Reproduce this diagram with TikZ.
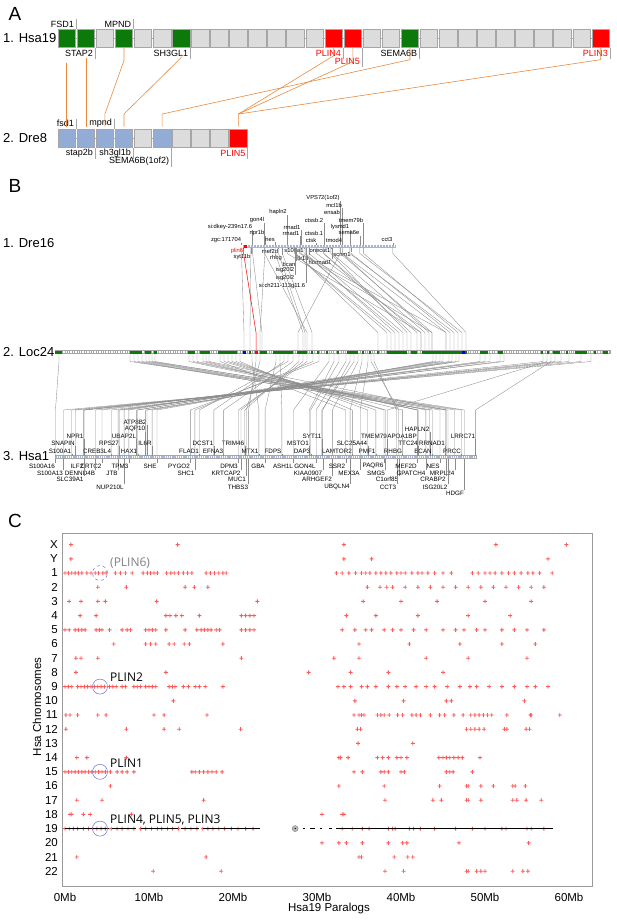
\documentclass[tikz,border=0pt]{standalone}
\usepackage{fontspec}
\setmainfont{Liberation Sans}
\newfontfamily\plinfont{Open Sans}
\usetikzlibrary{calc}

\definecolor{cellgray}{HTML}{DCDCDC}
\definecolor{celledge}{HTML}{A6A6A6}
\definecolor{hsagreen}{HTML}{0B7A0B}
\definecolor{drecell}{HTML}{93ACD5}
\definecolor{orthoorange}{HTML}{E88A3E}
\definecolor{chrblue}{HTML}{A7B6D7}
\definecolor{linkgray}{HTML}{8C8C8C}
\definecolor{hitred}{HTML}{FF5A5A}
\definecolor{ringblue}{HTML}{6A70D6}
\definecolor{framegray}{HTML}{9A9A9A}

\begin{document}
\begin{tikzpicture}[x=1pt,y=-1pt,
    cell/.style={draw=celledge,fill=cellgray,line width=0.7pt,minimum width=17.5pt,minimum height=18pt,inner sep=0pt},
    gcell/.style={cell,fill=hsagreen},
    bcell/.style={cell,fill=drecell},
    rcell/.style={cell,fill=red},
    albl/.style={font=\fontsize{9}{9}\selectfont,inner sep=0.5pt,anchor=east},
    rowlbl/.style={font=\fontsize{13}{13}\selectfont,anchor=west,inner sep=0pt},
    panel/.style={font=\fontsize{19}{19}\selectfont,inner sep=0pt},
    lbltick/.style={celledge,line width=0.5pt},
    ortho/.style={orthoorange,line width=0.6pt},
    glbl/.style={font=\fontsize{5.8}{5.8}\selectfont,inner sep=0.3pt},
    hlbl/.style={font=\fontsize{6.3}{6.3}\selectfont,inner sep=0.3pt},
    glink/.style={linkgray,line width=0.35pt},
    ticklbl/.style={font=\fontsize{11.5}{11.5}\selectfont,inner sep=0pt},
    plinlbl/.style={font=\plinfont\fontsize{12}{12}\selectfont,anchor=west,inner sep=0pt},
    ring/.style={draw=ringblue,circle,minimum size=15pt,inner sep=0pt,line width=0.5pt},
    hit/.pic={\fill[hitred] (-2,-0.45) rectangle (2,0.45) (-0.45,-2) rectangle (0.45,2);}
  ]
\useasboundingbox (0,0) rectangle (617,923);

%% A: Hsa19 against Dre8
\node[panel] (labA) at (15,14) {A};
\node[rowlbl] (hsa19) at (3,38.3) {1. Hsa19};
\node[rowlbl] (dre8) at (3,138.4) {2. Dre8};

\draw[celledge,line width=0.8pt] (58,38.3) -- (609.5,38.3);
\foreach \i in {0,...,28}
  \node[cell] (h\i) at ({66.75+19.07*\i},38.3) {};
\foreach \i/\s in {0/gcell,1/gcell,3/gcell,6/gcell,14/rcell,15/rcell,18/gcell,28/rcell}
  \node[\s] at (h\i) {};

\draw[celledge,line width=0.8pt] (58,138.4) -- (247,138.4);
\foreach \i in {0,...,9}
  \node[cell] (d\i) at ({66.75+19.07*\i},138.4) {};
\foreach \i/\s in {0/bcell,1/bcell,2/bcell,3/bcell,5/bcell,9/rcell}
  \node[\s] at (d\i) {};

% gene names on the cells
\foreach \i/\y/\col/\txt in {0/24/black/FSD1,3/24/black/MPND}{
  \node[albl,text=\col] (hn\i) at ({74.5+19.07*\i},\y) {\txt};
  \draw[lbltick] (h\i.north east) -- ++(0,-10);
}
\foreach \i/\y/\col/\txt in {1/53/black/STAP2,6/53/black/SH3GL1,14/53/red/PLIN4,15/61/red/PLIN5,18/53/black/SEMA6B,28/53/red/PLIN3}{
  \node[albl,text=\col] (hn\i) at ({74.5+19.07*\i},\y) {\txt};
  \draw[lbltick] (h\i.south east) -- ++(0,\y-42);
}
\foreach \i/\y/\col/\txt in {0/123/black/fsd1,2/123/black/mpnd}{
  \node[albl,text=\col] (dn\i) at ({74.5+19.07*\i},\y) {\txt};
  \draw[lbltick] (d\i.north east) -- ++(0,-10);
}
\foreach \i/\y/\col/\txt in {1/153/black/stap2b,3/153/black/sh3gl1b,5/161/black/SEMA6B(1of2),9/153/red/PLIN5}{
  \node[albl,text=\col] (dn\i) at ({74.5+19.07*\i},\y) {\txt};
  \draw[lbltick] (d\i.south east) -- ++(0,\y-142);
}

% orthologue links
\draw[ortho] (h0.south) ++(0,15) -- ([yshift=2.5pt]d0.north);
\draw[ortho] (h1.south) ++(0,10) -- ([yshift=2.5pt]d1.north);
\draw[ortho] (h3.south) -- ++(0,13) -- ([yshift=15pt]d2.north) -- ([yshift=2.5pt]d2.north);
\draw[ortho] (h6.south) ++(0,6) -- ++(0,4) -- ([yshift=15pt]d3.north) -- ([yshift=2.5pt]d3.north);
\draw[ortho] (h14.south) -- ++(0,8) -- ([yshift=15pt]d9.north);
\draw[ortho] (h15.south) -- ++(0,14) -- ([yshift=15pt]d9.north);
\draw[ortho] (h18.south) -- ++(0,12) -- ([yshift=15pt]d5.north) -- ([yshift=2.5pt]d5.north);
\draw[ortho] (h28.south) -- ++(0,12) -- ([yshift=15pt]d9.north) -- ([yshift=2.5pt]d9.north);

%% B: Dre16 - Loc24 - Hsa1
\node[panel] (labB) at (15,186) {B};
\node[rowlbl] (dre16) at (3,243) {1. Dre16};
\node[rowlbl] (loc24) at (3,352) {2. Loc24};
\node[rowlbl] (hsa1) at (3,456) {3. Hsa1};

\coordinate (dtop) at (0,244.5);
\coordinate (dbot) at (0,247.5);
\coordinate (htop) at (0,455.5);
\coordinate (hbot) at (0,458.5);
\coordinate (hknee) at (0,410);

% chromosome bars
\fill[chrblue] (243,244.5) rectangle (396,247.5);
\draw[white,line width=2.4pt,dash pattern=on 0.5pt off 2.5pt] (244,246) -- (396,246);
\fill[red] (243.5,244.5) rectangle (246.5,247.5);

\draw[celledge,fill=white,line width=0.4pt] (55,350.5) rectangle (610,353.5);
\draw[celledge,line width=2.6pt,dash pattern=on 0.4pt off 2pt] (55,352) -- (610,352);
\foreach \lo/\hi in {55/62,130/142,145/151,154/157,188/195,200/210,218/237,249/251,260/267,273/293,297/307,311/313,317/319,326/328,337/339,347/358,362/364,369/371,377/379,387/407,411/417,422/462,465/467,480/488,498/503,541/543,547/549,553/560,566/568,575/587,594/596,603/608}
  \fill[hsagreen] (\lo,350.5) rectangle (\hi,353.5);
\fill[blue!85!black] (242.5,350.5) rectangle (245.5,353.5);
\fill[blue!85!black] (461.5,350.5) rectangle (464.5,353.5);
\fill[red] (254.5,350.5) rectangle (257.5,353.5);

\draw[celledge,fill=white,line width=0.4pt] (55,455.5) rectangle (476,458.5);
\draw[chrblue,line width=2.4pt,dash pattern=on 1.5pt off 0.7pt] (55.5,457) -- (475.5,457);

\foreach \x in {59,130,134,138,142,146,149,152,155,189,193,197,203,206,209,220,224,228,232,236,240,244,250,252,256,260,262,276,280,284,288,293,298,299,303,305,307,312,313,319,329,334,339,346,350,354,358,362,368,371,374,378,387,391,395,399,403,407,411,417,421,425,429,432,433,436,440,443,446,449,450,452,454,456,458,459,462,466,480,485,490,500,504,543,547,551,555,561,569,581,591}{
  \coordinate (L\x) at (\x,350.5);
  \coordinate (M\x) at (\x,353.5);
}

% Dre16 genes
\foreach \n/\x/\y/\txt in {1/323/198/VPS72(1of2),2/334/205/mcl1b,3/332/212/ensab,4/278/212/hapln2,5/257/220/gon4l,6/314/220/ctssb.2,7/351/220/tmem79b,8/230/227/si:dkey-239n17.6,9/292/227/rrnad1,10/340/227/lysmd1,11/257/233/npr1b,12/291/233/rrnad1,13/314/233/ctssb.1,14/349/233/sema6e,15/226/240/zgc:171704,16/270/240/nes,17/311/240/ctsk,18/334/240/tmod4,19/387/240/cct3}{
  \node[glbl] (d16-\n) at (\x,\y) {\txt};
  \draw[glink] (d16-\n.south east) -- (d16-\n.south east |- dtop);
}
\foreach \n/\x/\y/\col/\txt in {20/237/251/red/plin6,21/242/257/black/syt11b,22/270/251/black/mef2d,23/294/251/black/s100a1,24/320/251/black/onecut1,25/276/258/black/rhbg,26/342/255/black/scnm1,27/303/258/black/tlr18,28/289/264/black/bcan,29/320/262/black/hormad1,30/285/270/black/isg20l2,31/285/278/black/isg20l2,32/282/286/black/si:ch211-113g11.6}{
  \node[glbl,text=\col] (d16-\n) at (\x,\y) {\txt};
  \draw[glink] (d16-\n.north east) -- (d16-\n.north east |- dbot);
}

% Dre16 to Loc24
\foreach \n/\x in {15/244,21/250,8/262,11/260,22/305,25/312,1/298,16/303,5/307,28/378,30/387,31/391,32/395,23/399,27/403,24/407,6/411,13/417,17/421,29/425,2/429,3/432,18/446,26/450,10/454,7/458,14/462,19/466,4/421,9/446,12/432}
  \draw[glink] (d16-\n.east |- dbot) -- ++(0,6) -- ([yshift=18pt]L\x) -- (L\x);
\draw[red,line width=0.5pt] (d16-20.east |- dbot) -- ++(0,6) -- ([yshift=18pt]L256) -- (L256);

% Hsa1 genes
\foreach \g/\x/\y in {ATP8B2/135/422,AQP10/135/429,UBAP2L/124/436,NPR1/75/436,SNAPIN/63/443,RPS27/109/443,IL6R/145/443,S100A1/60/451,CREB3L4/97/451,HAX1/129/451,DCST1/203/443,TRIM46/233/443,FLAD1/189/451,EFNA3/213/451,MTX1/250/451,FDPS/273/451,MSTO1/298/443,DAP3/302/451,SYT11/312/436,LAMTOR2/337/451,SLC25A44/352/443,PMF1/367/451,TMEM79/374/436,APOA1BP/402/436,HAPLN2/417/429,TTC24/408/443,RRNAD1/432/443,LRRC71/463/436,RHBG/393/451,BCAN/423/451,PRCC/452/451}{
  \node[hlbl] (h\g) at (\x,\y) {\g};
  \draw[glink] (h\g.south east) -- (h\g.south east |- htop);
}
\foreach \g/\x/\y in {S100A16/42/466,S100A13/50/473,ILF2/77/466,CRTC2/91/466,DENND4B/80/473,JTB/112/473,SLC39A1/70/479,NUP210L/110/487,TPM3/120/466,SHE/150/466,PYGO2/179/466,SHC1/186/473,DPM3/229/466,KRTCAP2/226/473,MUC1/237/479,THBS3/238/487,GBA/258/466,ASH1L/283/466,GON4L/305/466,KIAA0907/308/473,ARHGEF2/317/479,UBQLN4/337/487,SSR2/337/466,MEX3A/349/473,PAQR6/373/466,SMG5/376/473,C1orf85/387/479,CCT3/388/487,MEF2D/406/466,GPATCH4/411/473,NES/433/466,MRPL24/442/473,CRABP2/433/479,ISG20L2/435/487,HDGF/455/493}{
  \node[hlbl] (h\g) at (\x,\y) {\g};
  \draw[glink] (h\g.north east) -- (h\g.north east |- hbot);
}

% Loc24 to Hsa1
\foreach \x/\g in {59/S100A16,130/PRCC,134/BCAN,138/HAPLN2,142/NES,146/RRNAD1,149/ISG20L2,152/HDGF,155/MRPL24,189/MEF2D,193/GPATCH4,197/TTC24,203/RHBG,206/APOA1BP,209/CRABP2,220/SSR2,224/PAQR6,228/SMG5,232/PMF1,236/SLC25A44,240/LAMTOR2,252/MTX1,256/THBS3,260/MUC1,276/GBA,280/FDPS,284/DCST1,288/FLAD1,293/EFNA3,299/TRIM46,303/KRTCAP2,307/DPM3,313/SHC1,319/PYGO2,329/ASH1L,334/MSTO1,339/DAP3,346/GON4L,350/KIAA0907,354/SYT11,358/ARHGEF2,362/UBQLN4,368/MEX3A,371/C1orf85,374/CCT3,433/SHE,436/IL6R,440/TPM3,443/HAX1,449/UBAP2L,452/AQP10,456/ATP8B2,459/NUP210L,480/JTB,485/RPS27,490/CRTC2,500/CREB3L4,504/DENND4B,543/SLC39A1,547/TMEM79,551/LRRC71,555/ILF2,561/NPR1,569/SNAPIN,581/S100A1,591/S100A13}
  \draw[glink] (M\x) -- ++(0,8) -- (h\g.east |- hknee) -- (h\g.east |- htop);

%% C: Hsa19 paralogs on the other chromosomes
\node[panel] (labC) at (15,521) {C};
\draw[framegray,line width=0.6pt] (62,533) rectangle (592,886);
\foreach \m in {0,10,...,60}
  \node[ticklbl] (mb\m) at ({65+8.4*\m},897) {\m Mb};
\foreach \rw/\txt in {-1/X,0/Y}
  \node[ticklbl,anchor=east] (chr\txt) at (58,{573+14.2*(\rw-1)}) {\txt};
\foreach \rw in {1,...,22}
  \node[ticklbl,anchor=east] (chr\rw) at (58,{573+14.2*(\rw-1)}) {\rw};
\node[ticklbl,rotate=90] (ylab) at (37,707) {Hsa Chromosomes};
\node[ticklbl] (xlab) at (329,909) {Hsa19 Paralogs};

\foreach \rw/\ms in {
  -1/{0.7,13.4,33.2,51.3,59.7},
  0/{0.7,33.2,36.5,57.5},
  1/{0,0.4,0.8,1.2,1.6,2.0,2.6,3.1,3.6,4.0,4.5,4.9,6.0,6.6,7.2,8.0,9.3,9.8,10.2,10.6,11.0,12.1,12.6,13.0,13.5,14.1,14.6,15.1,16.8,17.3,17.8,18.3,18.8,19.2,32.3,33,33.8,34.6,35.3,35.8,36.3,37,37.6,38.2,38.8,39.5,40,40.5,41.3,42,42.5,43.2,44,45,46,48.5,49.2,50,50.6,51.2,52,52.8,53.5,54.3,55.1,55.7,56.5,58},
  2/{3.9,7.3,14.3,15.4,17,36,37.5,38.3,39,40.5,42,43.5,45,46.5,48,49.5,51,52.5,54,55.5,57},
  3/{0.5,1.9,3.9,4.8,10.9,22.9,35.5,40,44.3,50,55.5},
  4/{1.8,3.7,12,12.5,13.2,13.9,16,21,21.5,22,22.5,33.5,37,42,48,53},
  5/{0,0.5,1.2,1.6,2,2.4,3.7,4.1,4.4,5.3,6.8,7.4,7.8,9.6,10,10.4,10.8,12,14.3,15.7,16.2,16.6,17,17.4,18,18.4,21,21.5,22,22.5,33,34.5,35.8,36.5,38,39,40,41.5,43,45,46.5,47.5,49,50,52,53.5,55,57},
  6/{5.8,9.6,10.2,10.8,12.4,13,14.2,14.8,18.8,35,41,47,52,56},
  7/{1.3,1.9,3.9,21,32,35,43,48,55},
  8/{1.3,12,29,34,38.5,45},
  9/{0,0.4,0.8,1.5,1.9,2.3,2.7,3.1,3.5,3.9,4.3,4.7,5.3,5.7,6.1,6.8,7.2,8.2,8.6,9,9.6,10,10.4,10.8,12.4,12.8,13.1,14.1,14.7,15.5,16,16.7,18.8,32.5,33.2,34,35.3,36,37,38.5,39.5,40.5,41.8,43,44,45.5,47,48.2,49,50.5,52,53.5,55,56,57.5},
  10/{12.9,34.5,40.3,45.4,46,54.7},
  11/{0.1,0.6,1.5,3.9,4.9,10.6,11.8,16.9,34.4,35,35.3,35.6,37.2,37.6,38,38.6,39.6,40.2,41.3,41.8,42.3,43.5,44.6,45.2,46.3,47.4,48.3,48.8,49.3,49.8,50.3,50.8,52.6,55.4,55.5,58.9},
  12/{0.1,7.3,11.8,13.6,20.9,34.8,35.2,47.8,48.3,48.8,49.3,49.9,52.3,52.6,54.9,55.3},
  13/{34.9,41.4},
  14/{1.4,2.6,7.3,32.6,32.8,33.7,37.2,37.8,38.5,39.5,40,40.7,44.5,45,45.4,45.8,46.3,46.8,47.3,49.4},
  15/{0,0.4,0.8,1.2,1.6,2,2.4,2.8,3.2,3.6,4,4.4,4.8,5.4,6.2,6.8,7.4,8.2,15.1,15.5,16,16.5,17,17.5,18,18.7,34.4,35.4,37.6,38,38.5,40,40.4,45.4,45.8,46.2,48.5},
  16/{5.4,32.6,38,44.6,47.8,48,49.5,51,53.3,53.6,54.8},
  17/{1.4,4.4,16.5,38.1,43.8,44.8,47.8,48,49.5,53.3,53.8,54.9,56.7},
  18/{0.6,0.8,2.2,3,7.9,30.6,33,33.2},
  19/{0,0.5,1,1.5,2.2,2.8,3.3,3.8,4.3,4.8,5.5,6.2,6.8,7.5,8.2,9,9.6,10.3,11,11.5,12.2,12.8,13.5,14.3,15,15.7,16.4,17,17.6,18.3,19,19.8,20.6,21.5,22.4,33,34.2,35.4,36.2,38.5,39,39.3,41,41.5,42.3,44,46.5,48.5,50,52,52.5,55,55.5,57},
  20/{30.6,32.6,33.5,35.4,38.5,40.2,40.7,46.9,55.2},
  21/{1.4,16.8,35,35.3,39.2,40.8,41.4},
  22/{10.5,18.6,38.1,40.3,47.8,48,49,49.5,50,53.3,54.5,55.1}}
  \foreach \m in \ms
    \pic at ({65+8.4*\m},{573+14.2*(\rw-1)}) {hit};

% chromosome 19 itself
\foreach \lo/\hi in {0/5.2,5.6/8.5,9/13.5,13.8/16,16.4/23.2,28.3/28.6,29.2/29.8,30.3/30.6,31.4/31.8,32.3/58.1}
  \draw[black,line width=1.1pt] ({65+8.4*\lo},828.6) -- ({65+8.4*\hi},828.6);
\node[circle,fill=gray!55,draw=gray,minimum size=6pt,inner sep=0pt] (cen19) at ({65+8.4*27.4},828.6) {};
\fill (cen19) circle (0.7);

% PLIN loci
\node[ring,dashed] (r6) at (100,573) {};
\node[ring] (r2) at (100,686.6) {};
\node[ring] (r1) at (100,771.8) {};
\node[ring] (r453) at (100,828.6) {};
\node[plinlbl,text=gray] (p6) at (110,563) {(PLIN6)};
\node[plinlbl] (p2) at (110,677) {PLIN2};
\node[plinlbl] (p1) at (110,763) {PLIN1};
\node[plinlbl] (p453) at (110,820) {PLIN4, PLIN5, PLIN3};
\end{tikzpicture}
\end{document}
